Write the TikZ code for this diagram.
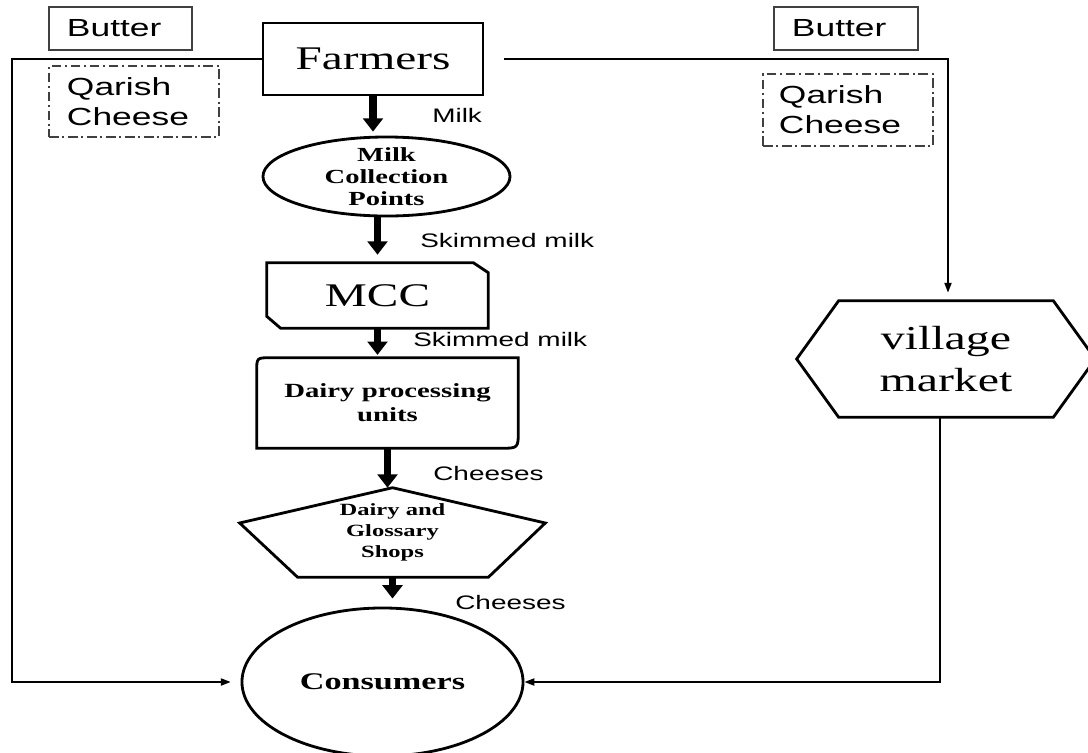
\documentclass[tikz,border=0pt]{standalone}
\usepackage{fontspec}
\setmainfont{Liberation Serif}[FakeStretch=1.43]
\setsansfont{Liberation Sans}[FakeStretch=1.43]
\usetikzlibrary{arrows.meta,calc,shapes.geometric}

\begin{document}
\begin{tikzpicture}[x=0.025cm, y=-0.025cm,
  shapeline/.style={draw=black, line width=2pt},
  hiddenbox/.style={inner sep=0pt, align=center},
  flowarrow/.style={line width=5pt, -{Triangle[length=9.5pt,width=14pt]}},
  linkline/.style={line width=1.3pt, -{Triangle[length=7pt,width=5pt]}},
  prodbox/.style={draw=black!75, line width=0.9pt, align=left, inner xsep=0.45cm, inner ysep=0pt, font=\sffamily\fontsize{17.6}{21.3}\selectfont},
  cheesebox/.style={prodbox, dash pattern=on 7pt off 2.5pt on 1.5pt off 2.5pt},
  flowlabel/.style={anchor=base west, inner sep=0pt, font=\sffamily\fontsize{13.9}{16}\selectfont}]
  \useasboundingbox (0,0) rectangle (1088,752);

  \node[shapeline, hiddenbox, minimum width=5.5cm, minimum height=1.8cm, font=\fontsize{23.5}{28}\selectfont] (farm) at (373,59) {Farmers};
  \node[shapeline, ellipse, inner sep=0pt, minimum width=6.175cm, minimum height=1.975cm, label={[align=center, font=\bfseries\fontsize{14.2}{15.6}\selectfont]center:Milk\\Collection\\Points}] (mcp) at (386.5,176.5) {};
  \node[hiddenbox, minimum width=5.525cm, minimum height=1.625cm, font=\fontsize{23.5}{28}\selectfont] (mcc) at (377.5,295.5) {MCC};
  \node[hiddenbox, minimum width=6.525cm, minimum height=2.25cm, font=\bfseries\fontsize{14.3}{17}\selectfont] (dpu) at (387.5,403) {Dairy processing\\units};
  \node[hiddenbox, minimum width=7.625cm, minimum height=2.225cm, font=\bfseries\fontsize{12.2}{15}\selectfont] (dgs) at (392.5,532.5) {Dairy and\\Glossary\\Shops};
  \node[shapeline, ellipse, inner sep=0pt, minimum width=7.025cm, minimum height=3.7cm, font=\bfseries\fontsize{17}{20}\selectfont] (cons) at (382.5,682) {Consumers};
  \node[hiddenbox, minimum width=7.45cm, minimum height=2.9cm, font=\fontsize{23.8}{30}\selectfont] (vm) at (946,359) {village\\market};

  \draw[shapeline] (mcc.north west) -- ($(mcc.north east)+(-15,0)$) -- ($(mcc.north east)+(0,10)$) -- (mcc.south east) -- ($(mcc.south west)+(14,0)$) -- ($(mcc.south west)+(0,-12)$) -- cycle;
  \draw[shapeline] (dpu.south west) -- ($(dpu.north west)+(0,14)$) .. controls (dpu.north west) .. ($(dpu.north west)+(14,0)$) -- (dpu.north east) -- ($(dpu.south east)+(0,-18)$) .. controls (dpu.south east) .. ($(dpu.south east)+(-18,0)$) -- cycle;
  \draw[shapeline] (dgs.north) -- ($(dgs.east)+(0,-9.5)$) -- ($(dgs.south east)+(-57,0)$) -- ($(dgs.south west)+(58,0)$) -- ($(dgs.west)+(0,-9.5)$) -- cycle;
  \draw[shapeline] (vm.west) -- ($(vm.north west)+(42,0)$) -- ($(vm.north east)+(-42,0)$) -- (vm.east) -- ($(vm.south east)+(-42,0)$) -- ($(vm.south west)+(42,0)$) -- cycle;

  \node[prodbox, text width=2.675cm, minimum height=1.075cm] (butterL) at (120.5,28.5) {Butter};
  \node[cheesebox, text width=3.35cm, minimum height=1.775cm] (qarishL) at (134,101.5) {Qarish\\Cheese};
  \node[prodbox, text width=2.7cm, minimum height=1.075cm] (butterR) at (846,28.5) {Butter};
  \node[cheesebox, text width=3.45cm, inner xsep=0.4cm, minimum height=1.8cm] (qarishR) at (848,110) {Qarish\\Cheese};

  \node[flowlabel] (lmilk) at (432,122) {Milk};
  \node[flowlabel] (lskim1) at (420,247) {Skimmed milk};
  \node[flowlabel] (lskim2) at (413,346) {Skimmed milk};
  \node[flowlabel] (lchs1) at (433,480) {Cheeses};
  \node[flowlabel] (lchs2) at (455,609) {Cheeses};

  \draw[flowarrow, shorten >=2.8pt] (farm.south) -- (farm.south |- mcp.north);
  \draw[flowarrow, shorten >=5.7pt] (mcc.north |- mcp.south) -- (mcc.north);
  \draw[flowarrow, shorten >=2pt] (mcc.south) -- (mcc.south |- dpu.north);
  \draw[flowarrow] (dpu.south) -- (dpu.south |- dgs.north);
  \draw[flowarrow, shorten >=5.7pt] (dgs.south) -- (dgs.south |- cons.north);

  \coordinate (lrail) at (12,400);
  \coordinate (rrail) at (948,200);
  \draw[linkline, shorten >=7pt] (farm.west) -| (lrail) |- (cons.west);
  \draw[linkline, shorten <=14pt, shorten >=5.7pt] (farm.east) -| (rrail) -- (rrail |- vm.north);
  \draw[linkline] ([xshift=-4pt]vm.south) |- (cons.east);
\end{tikzpicture}
\end{document}
